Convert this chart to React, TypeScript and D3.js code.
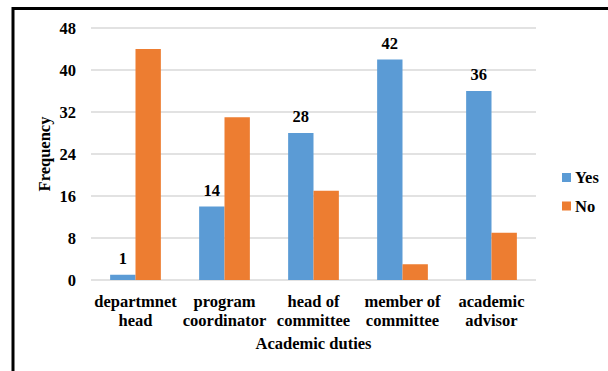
import React from "react";
import * as d3 from "d3";

const categories = [
  ["departmnet", "head"],
  ["program", "coordinator"],
  ["head of", "committee"],
  ["member of", "committee"],
  ["academic", "advisor"],
];
const seriesNames = ["Yes", "No"];
const yesValues = [1, 14, 28, 42, 36];
const noValues = [44, 31, 17, 3, 9];
const yTicks = [0, 8, 16, 24, 32, 40, 48];
const colors = ["#5B9BD5", "#ED7D31"];

export default function App() {
  const W = 608, H = 371;
  const left = 91, right = 536, top = 28, bottom = 280;
  const font = "Liberation Serif, Times New Roman, serif";
  const y = d3.scaleLinear().domain([0, 48]).range([bottom, top]);
  const x0 = d3.scaleBand<number>().domain(categories.map((_, i) => i)).range([left, right]).paddingInner(0.43).paddingOuter(0.215);
  const x1 = d3.scaleBand<number>().domain([0, 1]).range([0, x0.bandwidth()]);
  const series = [yesValues, noValues];
  const ts: React.CSSProperties = { fontFamily: font, fontWeight: "bold", fontSize: 16.5 };
  return (
    <svg width={W} height={H} style={{ position: "absolute", left: 0, top: 0, background: "#fff", fontFamily: font }}>
      <rect x={0} y={0} width={W} height={H} fill="#fff" />
      <line x1={13} y1={8.5} x2={W} y2={8.5} stroke="#000" strokeWidth={3} />
      <line x1={13} y1={7} x2={13} y2={H} stroke="#000" strokeWidth={3} />
      {yTicks.map((t) => (
        <g key={t}>
          <line x1={left} x2={right} y1={y(t)} y2={y(t)} stroke="#D9D9D9" strokeWidth={1.3} />
          <text x={76} y={y(t)} dy="0.35em" textAnchor="end" style={ts}>{t}</text>
        </g>
      ))}
      {series.map((vals, s) =>
        vals.map((v, i) => (
          <rect key={`${s}-${i}`} x={x0(i)! + x1(s)!} y={y(v)} width={x1.bandwidth()} height={y(0) - y(v)} fill={colors[s]} />
        ))
      )}
      {yesValues.map((v, i) => (
        <text key={`l${i}`} x={x0(i)! + x1(0)! + x1.bandwidth() / 2} y={y(v) - 11} textAnchor="middle" style={ts}>{v}</text>
      ))}
      {categories.map((c, i) => (
        <text key={`c${i}`} x={x0(i)! + x0.bandwidth() / 2} textAnchor="middle" style={ts}>
          <tspan x={x0(i)! + x0.bandwidth() / 2} y={307}>{c[0]}</tspan>
          <tspan x={x0(i)! + x0.bandwidth() / 2} y={326}>{c[1]}</tspan>
        </text>
      ))}
      <text x={(left + right) / 2} y={349} textAnchor="middle" style={ts}>Academic duties</text>
      <text transform={`translate(50,${(top + bottom) / 2}) rotate(-90)`} textAnchor="middle" style={ts}>Frequency</text>
      {seriesNames.map((n, s) => (
        <g key={n}>
          <rect x={562} y={173 + s * 28.5} width={9} height={9} fill={colors[s]} />
          <text x={575} y={177.5 + s * 28.5} dy="0.35em" style={ts}>{n}</text>
        </g>
      ))}
    </svg>
  );
}
